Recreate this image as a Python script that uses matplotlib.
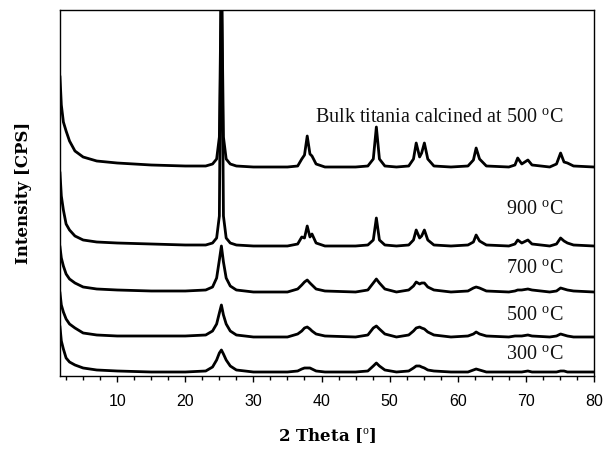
import matplotlib
matplotlib.use("Agg")
import matplotlib.pyplot as plt
from matplotlib.ticker import MultipleLocator

plt.rcParams['mathtext.fontset'] = 'custom'
plt.rcParams['mathtext.rm'] = 'Liberation Serif'

# 2 theta sample points (deg)
two_theta = [1.6, 1.8, 2.1, 2.5, 3.0, 3.8, 5.0, 7.0, 10.0, 15.0, 20.0, 23.0, 24.0, 24.6,
             25.0, 25.3, 25.6, 26.0, 26.6, 27.5, 30.0, 35.0, 36.5, 37.1, 37.5, 37.9, 38.3,
             38.6, 39.2, 40.5, 45.0, 46.8, 47.6, 48.05, 48.5, 49.3, 51.0, 52.8, 53.5, 53.9,
             54.4, 54.7, 55.1, 55.6, 56.5, 59.0, 61.5, 62.3, 62.7, 63.2, 64.2, 67.5, 68.4,
             68.8, 69.4, 70.3, 70.9, 73.5, 74.5, 75.1, 75.6, 76.1, 77.0, 80.0]

# intensities above each trace's own baseline (arb. units)
bulk = [90, 62, 45, 36, 26, 16, 10, 6, 4, 2, 1, 1, 3, 8,
        30, 200, 30, 8, 3, 1, 0, 0, 1, 8, 12, 31, 13,
        11, 3, 0, 0, 1, 8, 40, 8, 1, 0, 1, 8, 24,
        10, 14, 24, 8, 1, 0, 1, 7, 19, 8, 1, 0, 2,
        9, 3, 7, 2, 0, 3, 14, 5, 4, 1, 0]
t900 = [73, 50, 36, 22, 16, 10, 6, 4, 3, 2, 1, 1, 3, 8,
        30, 300, 30, 8, 3, 1, 0, 0, 2, 9, 8, 20, 9,
        12, 3, 0, 0, 1, 6, 28, 6, 1, 0, 1, 6, 16,
        8, 10, 16, 6, 1, 0, 1, 4, 11, 5, 1, 0, 2,
        6, 3, 6, 2, 0, 2, 8, 5, 3, 1, 0]
t700 = [45, 34, 26, 18, 13, 9, 5, 3, 2, 1, 1, 2, 5, 14,
        32, 46, 30, 14, 6, 2, 0, 0, 3, 7, 10, 12, 9,
        7, 3, 1, 0, 2, 9, 13, 9, 3, 0, 2, 6, 10,
        8, 9, 9, 5, 2, 0, 1, 4, 5, 4, 1, 0, 1,
        2, 2, 3, 2, 0, 1, 4, 3, 2, 1, 0]
t500 = [44, 32, 25, 18, 13, 9, 4, 2, 1, 1, 1, 2, 6, 13,
        24, 32, 22, 13, 6, 2, 0, 0, 3, 6, 9, 10, 8,
        6, 3, 1, 0, 2, 9, 11, 8, 3, 0, 2, 6, 9,
        10, 9, 8, 5, 2, 0, 1, 3, 5, 3, 1, 0, 1,
        1, 1, 2, 1, 0, 1, 3, 2, 1, 0, 0]
t300 = [46, 32, 24, 15, 11, 8, 5, 3, 2, 1, 1, 2, 6, 13,
        20, 23, 19, 13, 7, 3, 1, 1, 2, 4, 5, 5, 5,
        4, 2, 1, 1, 2, 7, 10, 7, 3, 1, 2, 5, 7,
        7, 6, 5, 3, 2, 1, 1, 3, 4, 3, 1, 1, 1,
        1, 1, 2, 1, 1, 1, 2, 2, 1, 1, 1]

traces = [t300, t500, t700, t900, bulk]
offsets = [3, 39, 84, 130, 209]
labels = [r'300 $^{\mathrm{o}}$C', r'500 $^{\mathrm{o}}$C', r'700 $^{\mathrm{o}}$C',
          r'900 $^{\mathrm{o}}$C', r'Bulk titania calcined at 500 $^{\mathrm{o}}$C']
label_y = [20, 59, 106, 166, 258]

fig = plt.figure(figsize=(6.04, 4.49), dpi=100)
ax = fig.add_axes([0.0993, 0.1626, 0.8841, 0.8151])

for ys, off in zip(traces, offsets):
    ax.plot(two_theta, [v + off for v in ys], color='black', lw=2.0, solid_joinstyle='round')

for txt, yy in zip(labels, label_y):
    ax.text(75.5, yy, txt, ha='right', va='center', fontsize=14.5,
            family='Liberation Serif', color='#111111')

ax.set_xlim(1.6, 80)
ax.set_ylim(0, 366)
ax.set_yticks([])
ax.xaxis.set_major_locator(MultipleLocator(10))
ax.xaxis.set_minor_locator(MultipleLocator(2.5))
ax.tick_params(axis='x', which='major', direction='out', length=4, width=1, pad=9,
               labelsize=11.5)
ax.tick_params(axis='x', which='minor', direction='out', length=3, width=1)
for lab in ax.get_xticklabels():
    lab.set_family('Liberation Sans')
for s in ax.spines.values():
    s.set_linewidth(1.0)

ax.set_xlabel(r'2 Theta [$^{\mathrm{o}}$]', fontsize=12, family='DejaVu Serif',
              fontweight='bold', labelpad=12)
ax.set_ylabel('Intensity [CPS]', fontsize=12, family='DejaVu Serif',
              fontweight='bold', labelpad=20)

fig.savefig('out.png', dpi=100)
